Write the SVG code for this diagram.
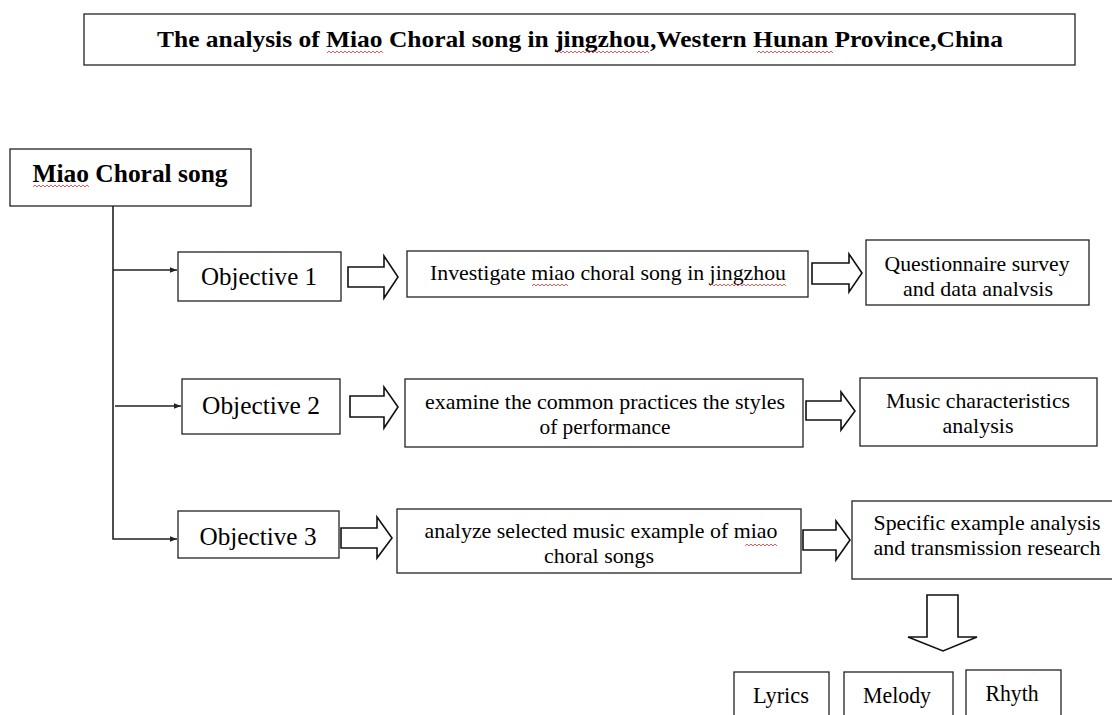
<svg xmlns="http://www.w3.org/2000/svg" width="1112" height="715" viewBox="0 0 1112 715">
<defs>
<style>
.box{fill:#fff;stroke:#222;stroke-width:1.3}
.t{font-family:"Liberation Serif","Times New Roman",serif;fill:#000;text-anchor:middle}
.b{font-weight:bold}
.blk{fill:#fff;stroke:#111;stroke-width:1.6;stroke-linejoin:miter}
.ln{fill:none;stroke:#222;stroke-width:1.6}
.sq{fill:none;stroke:#e03030;stroke-width:0.8}
</style>
<marker id="ah" viewBox="0 0 10 10" refX="10" refY="5" markerWidth="7" markerHeight="7" markerUnits="userSpaceOnUse" orient="auto">
<path d="M0,1 L10,5 L0,9 Z" fill="#222"/>
</marker>
</defs>
<rect width="1112" height="715" fill="#fff"/>

<g id="title">
<rect class="box" x="84" y="14" width="991" height="51"/>
<text class="t b" x="580" y="47" font-size="24" textLength="846" lengthAdjust="spacingAndGlyphs">The analysis of Miao Choral song in jingzhou,Western Hunan Province,China</text>
</g>

<g id="root">
<rect class="box" x="10" y="149" width="241" height="57"/>
<text class="t b" x="130" y="182" font-size="26" textLength="195" lengthAdjust="spacingAndGlyphs">Miao Choral song</text>
</g>

<g id="connectors">
<path class="ln" d="M113,206 V539 H177" marker-end="url(#ah)"/>
<path class="ln" d="M113,270 H177" marker-end="url(#ah)"/>
<path class="ln" d="M115,406 H181" marker-end="url(#ah)"/>
<polygon class="blk" points="348,267 384,267 384,256 398,277 384,298 384,287 348,287"/>
<polygon class="blk" points="812,263 849,263 849,254 862,273 849,292 849,284 812,284"/>
<polygon class="blk" points="350,396 384,396 384,387 398,407 384,428 384,417 350,417"/>
<polygon class="blk" points="806,401 841,401 841,392 855,411 841,430 841,420 806,420"/>
<polygon class="blk" points="341,528 377,528 377,517 392,538 377,558 377,548 341,548"/>
<polygon class="blk" points="803,530 836,530 836,521 850,540 836,560 836,550 803,550"/>
<polygon class="blk" points="927,595 958,595 958,637 977,637 943,651 908,637 927,637"/>
</g>

<g id="obj1">
<rect class="box" x="178" y="252" width="163" height="49"/>
<text class="t" x="259" y="285" font-size="25" textLength="116" lengthAdjust="spacingAndGlyphs">Objective 1</text>
</g>
<g id="investigate">
<rect class="box" x="407" y="251" width="401" height="46"/>
<text class="t" x="608" y="280" font-size="22" textLength="356" lengthAdjust="spacingAndGlyphs">Investigate miao choral song in jingzhou</text>
</g>
<g id="questionnaire">
<rect class="box" x="866" y="240" width="223" height="65"/>
<text class="t" x="977" y="271" font-size="22" textLength="185" lengthAdjust="spacingAndGlyphs">Questionnaire survey</text>
<text class="t" x="978" y="296" font-size="22" textLength="150" lengthAdjust="spacingAndGlyphs">and data analvsis</text>
</g>

<g id="obj2">
<rect class="box" x="182" y="379" width="158" height="55"/>
<text class="t" x="261" y="414" font-size="25" textLength="118" lengthAdjust="spacingAndGlyphs">Objective 2</text>
</g>
<g id="examine">
<rect class="box" x="405" y="379" width="398" height="68"/>
<text class="t" x="605" y="409" font-size="22" textLength="360" lengthAdjust="spacingAndGlyphs">examine the common practices the styles</text>
<text class="t" x="605" y="434" font-size="22" textLength="131" lengthAdjust="spacingAndGlyphs">of performance</text>
</g>
<g id="music">
<rect class="box" x="860" y="378" width="237" height="68"/>
<text class="t" x="978" y="408" font-size="22" textLength="184" lengthAdjust="spacingAndGlyphs">Music characteristics</text>
<text class="t" x="978" y="433" font-size="22" textLength="71" lengthAdjust="spacingAndGlyphs">analysis</text>
</g>

<g id="obj3">
<rect class="box" x="178" y="511" width="161" height="47"/>
<text class="t" x="258" y="545" font-size="25" textLength="117" lengthAdjust="spacingAndGlyphs">Objective 3</text>
</g>
<g id="analyze">
<rect class="box" x="397" y="509" width="404" height="64"/>
<text class="t" x="601" y="538" font-size="22" textLength="353" lengthAdjust="spacingAndGlyphs">analyze selected music example of miao</text>
<text class="t" x="599" y="563" font-size="22" textLength="110" lengthAdjust="spacingAndGlyphs">choral songs</text>
</g>
<g id="specific">
<rect class="box" x="852" y="501" width="262" height="78"/>
<text class="t" x="987" y="530" font-size="22" textLength="227" lengthAdjust="spacingAndGlyphs">Specific example analysis</text>
<text class="t" x="987" y="555" font-size="22" textLength="227" lengthAdjust="spacingAndGlyphs">and transmission research</text>
</g>

<g id="lyrics">
<rect class="box" x="734" y="672" width="95" height="50"/>
<text class="t" x="781" y="703" font-size="23" textLength="56" lengthAdjust="spacingAndGlyphs">Lyrics</text>
</g>
<g id="melody">
<rect class="box" x="844" y="672" width="109" height="50"/>
<text class="t" x="897" y="703" font-size="23" textLength="68" lengthAdjust="spacingAndGlyphs">Melody</text>
</g>
<g id="rhyth">
<rect class="box" x="966" y="670" width="95" height="52"/>
<text class="t" x="1012" y="701" font-size="23" textLength="53" lengthAdjust="spacingAndGlyphs">Rhyth</text>
</g>

<g id="spellmarks">
<path class="sq" d="M327,53 l2,-2 l2,2 l2,-2 l2,2 l2,-2 l2,2 l2,-2 l2,2 l2,-2 l2,2 l2,-2 l2,2 l2,-2 l2,2 l2,-2 l2,2 l2,-2 l2,2 l2,-2 l2,2 l2,-2 l2,2 l2,-2 l2,2 l2,-2 l2,2 l2,-2 l2,2"/>
<path class="sq" d="M557,53 l2,-2 l2,2 l2,-2 l2,2 l2,-2 l2,2 l2,-2 l2,2 l2,-2 l2,2 l2,-2 l2,2 l2,-2 l2,2 l2,-2 l2,2 l2,-2 l2,2 l2,-2 l2,2 l2,-2 l2,2 l2,-2 l2,2 l2,-2 l2,2 l2,-2 l2,2 l2,-2 l2,2 l2,-2 l2,2 l2,-2 l2,2 l2,-2 l2,2 l2,-2 l2,2 l2,-2 l2,2 l2,-2 l2,2 l2,-2 l2,2 l2,-2 l2,2"/>
<path class="sq" d="M757,53 l2,-2 l2,2 l2,-2 l2,2 l2,-2 l2,2 l2,-2 l2,2 l2,-2 l2,2 l2,-2 l2,2 l2,-2 l2,2 l2,-2 l2,2 l2,-2 l2,2 l2,-2 l2,2 l2,-2 l2,2 l2,-2 l2,2 l2,-2 l2,2 l2,-2 l2,2 l2,-2 l2,2 l2,-2 l2,2 l2,-2 l2,2 l2,-2 l2,2 l2,-2 l2,2"/>
<path class="sq" d="M33,187 l2,-2 l2,2 l2,-2 l2,2 l2,-2 l2,2 l2,-2 l2,2 l2,-2 l2,2 l2,-2 l2,2 l2,-2 l2,2 l2,-2 l2,2 l2,-2 l2,2 l2,-2 l2,2 l2,-2 l2,2 l2,-2 l2,2 l2,-2 l2,2 l2,-2 l2,2"/>
<path class="sq" d="M532,286 l2,-2 l2,2 l2,-2 l2,2 l2,-2 l2,2 l2,-2 l2,2 l2,-2 l2,2 l2,-2 l2,2 l2,-2 l2,2 l2,-2 l2,2 l2,-2 l2,2"/>
<path class="sq" d="M710,286 l2,-2 l2,2 l2,-2 l2,2 l2,-2 l2,2 l2,-2 l2,2 l2,-2 l2,2 l2,-2 l2,2 l2,-2 l2,2 l2,-2 l2,2 l2,-2 l2,2 l2,-2 l2,2 l2,-2 l2,2 l2,-2 l2,2 l2,-2 l2,2 l2,-2 l2,2 l2,-2 l2,2 l2,-2 l2,2 l2,-2 l2,2 l2,-2 l2,2 l2,-2 l2,2"/>
<path class="sq" d="M745,546 l2,-2 l2,2 l2,-2 l2,2 l2,-2 l2,2 l2,-2 l2,2 l2,-2 l2,2 l2,-2 l2,2 l2,-2 l2,2 l2,-2 l2,2"/>
</g>
</svg>
